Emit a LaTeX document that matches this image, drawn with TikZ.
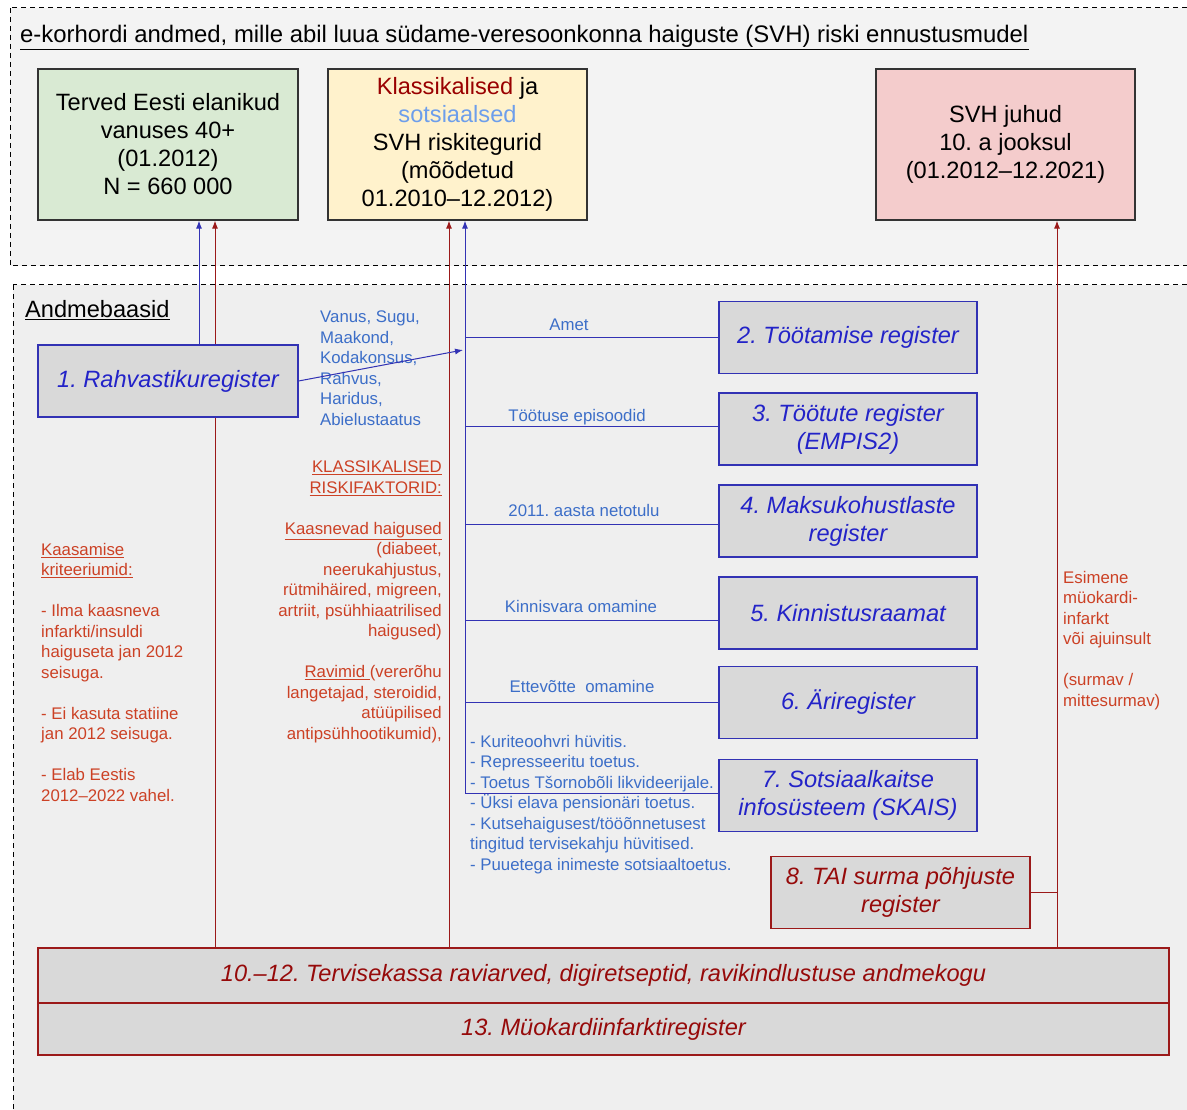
\documentclass[tikz,border=0pt]{standalone}
\usepackage{fontspec}
\setmainfont{Liberation Sans}
\usepackage{tikz}
\usetikzlibrary{arrows.meta}
\usetikzlibrary{positioning}
\definecolor{topbg}{HTML}{F3F3F3}
\definecolor{lowbg}{HTML}{EFEFEF}
\definecolor{gbox}{HTML}{D9D9D9}
\definecolor{greenbox}{HTML}{D9EAD3}
\definecolor{yellowbox}{HTML}{FFF2CC}
\definecolor{pinkbox}{HTML}{F4CCCC}
\definecolor{lblue}{RGB}{50,50,180}
\definecolor{lred}{RGB}{155,25,25}
\definecolor{tblue}{RGB}{35,35,200}
\definecolor{dred}{RGB}{150,10,10}
\definecolor{nblue}{RGB}{60,110,200}
\definecolor{rberry}{RGB}{204,65,37}
\definecolor{kred}{HTML}{990000}
\definecolor{sblue}{HTML}{6D9EEB}
\newcommand{\bigtxt}{\fontsize{23.6}{28}\selectfont}
\newcommand{\smalltxt}{\fontsize{16.8}{20.5}\selectfont}
\frenchspacing
\pgfdeclarelayer{bg}
\pgfdeclarelayer{wires}
\pgfsetlayers{bg,wires,main}
\tikzstyle{region}=[dash pattern=on 5pt off 4pt,draw=black,line width=1pt]
\tikzstyle{bigbox}=[draw=black!80,line width=1.2pt,minimum width=260pt,minimum height=151pt,align=center,inner sep=0pt,font=\bigtxt]
\tikzstyle{reg}=[draw=lblue,fill=gbox,line width=1.2pt,minimum width=258pt,minimum height=72pt,align=center,inner sep=0pt,font=\bigtxt\itshape,text=tblue]
\tikzstyle{redreg}=[reg,draw=lred,text=dred]
\tikzstyle{heading}=[inner sep=0pt,anchor=base west,font=\bigtxt]
\tikzstyle{bluenote}=[inner sep=0pt,font=\smalltxt,text=nblue]
\tikzstyle{rednote}=[inner sep=0pt,font=\smalltxt,text=rberry]
\tikzstyle{bline}=[draw=lblue,line width=1pt]
\tikzstyle{rline}=[draw=lred,line width=1pt]
\tikzstyle{barr}=[bline,-{Latex[length=8pt,width=6pt]}]
\tikzstyle{rarr}=[rline,-{Latex[length=8pt,width=6pt]}]

\begin{document}
\begin{tikzpicture}[x=1pt,y=-1pt]
      \useasboundingbox (0,0) rectangle (1187,1110);
      \begin{pgfonlayer}{bg}
        \fill[white] (0,0) rectangle (1187,1110);
        \begin{scope}
          \clip (0,0) rectangle (1187,1110);
          \draw[region,fill=topbg] (10,8) rectangle (1200,266);
          \draw[region,fill=lowbg] (13,285) rectangle (1200,1125);
        \end{scope}
      \end{pgfonlayer}

      \node[heading,font=\fontsize{23.9}{28}\selectfont] at (20,43) (title) {\underline{e-korhordi andmed, mille abil luua südame-veresoonkonna haiguste (SVH) riski ennustusmudel}};
      \node[heading] at (25,318) (andm) {\underline{Andmebaasid}};

      % sihtrühm, riskitegurid, tulemus
      \node[bigbox,fill=greenbox] at (168,144.5) (tv) {Terved Eesti elanikud\\vanuses 40+\\(01.2012)\\N = 660 000};
      \node[bigbox,fill=yellowbox,minimum width=259pt] at (457.5,144.5) (kf) {{\color{kred}Klassikalised} ja\\{\color{sblue}sotsiaalsed}\\SVH riskitegurid\\(mõõdetud\\01.2010–12.2012)};
      \node[bigbox,fill=pinkbox,minimum width=259pt] at (1005.5,144.5) (jh) {SVH juhud\\10. a jooksul\\(01.2012–12.2021)};

      % registrid
      \node[reg,minimum width=260pt] at (168,381) (r1) {1. Rahvastikuregister};
      \node[reg] at (848,337.5) (b2) {2. Töötamise register};
      \node[reg] at (848,429) (b3) {3. Töötute register\\(EMPIS2)};
      \node[reg] at (848,521) (b4) {4. Maksukohustlaste\\register};
      \node[reg] at (848,613) (b5) {5. Kinnistusraamat};
      \node[reg] at (848,702.5) (b6) {6. Äriregister};
      \node[reg] at (848,795.5) (b7) {7. Sotsiaalkaitse\\infosüsteem (SKAIS)};
      \node[redreg,minimum width=259pt] at (900.5,892.5) (b8) {8. TAI surma põhjuste\\register};
      \node[redreg,minimum width=1131pt,minimum height=55pt] at (603.5,975.5) (tk) {10.–12. Tervisekassa raviarved, digiretseptid, ravikindlustuse andmekogu};
      \node[redreg,minimum width=1131pt,minimum height=52pt] at (603.5,1029) (mi) {13. Müokardiinfarktiregister};

      % tunnused
      \node[bluenote,align=left,anchor=north west] at (320,311) (rtun) {Vanus, Sugu,\\Maakond,\\Kodakonsus,\\Rahvus,\\Haridus,\\Abielustaatus};
      \node[bluenote] at (569,325) (lamet) {Amet};
      \node[bluenote] at (577,417) (ltoot) {Töötuse episoodid};
      \node[bluenote] at (584,510) (ltulu) {2011. aasta netotulu};
      \node[bluenote] at (581,606) (lkinn) {Kinnisvara omamine};
      \node[bluenote] at (582,686) (lette) {Ettevõtte\ \ omamine};
      \node[bluenote,align=left,anchor=north west] at (470,735) (lskais) {- Kuriteoohvri hüvitis.\\- Represseeritu toetus.\\- Toetus Tšornobõli likvideerijale.\\- Üksi elava pensionäri toetus.\\- Kutsehaigusest/tööõnnetusest\\tingitud tervisekahju hüvitised.\\- Puuetega inimeste sotsiaaltoetus.};
      \node[rednote,align=right,anchor=north east] at (442,461) (klass) {\underline{KLASSIKALISED}\\\underline{RISKIFAKTORID:}\\[20.5pt]\underline{Kaasnevad haigused}\\(diabeet,\\neerukahjustus,\\rütmihäired, migreen,\\artriit, psühhiaatrilised\\haigused)\\[20.5pt]\underline{Ravimid\ }(vererõhu\\langetajad, steroidid,\\atüüpilised\\antipsühhootikumid),};
      \node[rednote,align=left,anchor=north west] at (41,543) (kaas) {\underline{Kaasamise}\\\underline{kriteeriumid:}\\[20.5pt]- Ilma kaasneva\\infarkti/insuldi\\haiguseta jan 2012\\seisuga.\\[20.5pt]- Ei kasuta statiine\\jan 2012 seisuga.\\[20.5pt]- Elab Eestis\\2012–2022 vahel.};
      \node[rednote,align=left,anchor=north west] at (1063,571) (esim) {Esimene\\müokardi-\\infarkt\\või ajuinsult\\[20.5pt](surmav /\\mittesurmav)};

      \coordinate (trunk) at (465,793);
      \coordinate (tin) at (463,350);

      \begin{pgfonlayer}{wires}
        \draw[rarr] (tk.north -| 215,0) -- (tv.south -| 215,0);
        \draw[barr] (r1.north -| 199,0) -- (tv.south -| 199,0);
        \draw[rarr] (tk.north -| 449,0) -- (kf.south -| 449,0);
        \draw[barr] (trunk) -- (kf.south -| trunk);
        \draw[rarr] (tk.north -| 1057,0) -- (jh.south -| 1057,0);
        \draw[rline] (b8.east) -- (b8.east -| 1057,0);
        \draw[bline] (trunk) -- (b7.west |- trunk);
        \foreach \b/\s in {b2/0,b3/3,b4/-3,b5/-7,b6/0}
          \draw[bline] ([yshift=\s pt]\b.west) -- ([yshift=\s pt]\b.west -| trunk);
      \end{pgfonlayer}
      \draw[barr] (r1.east) -- (tin);
    \end{tikzpicture}
\end{document}
